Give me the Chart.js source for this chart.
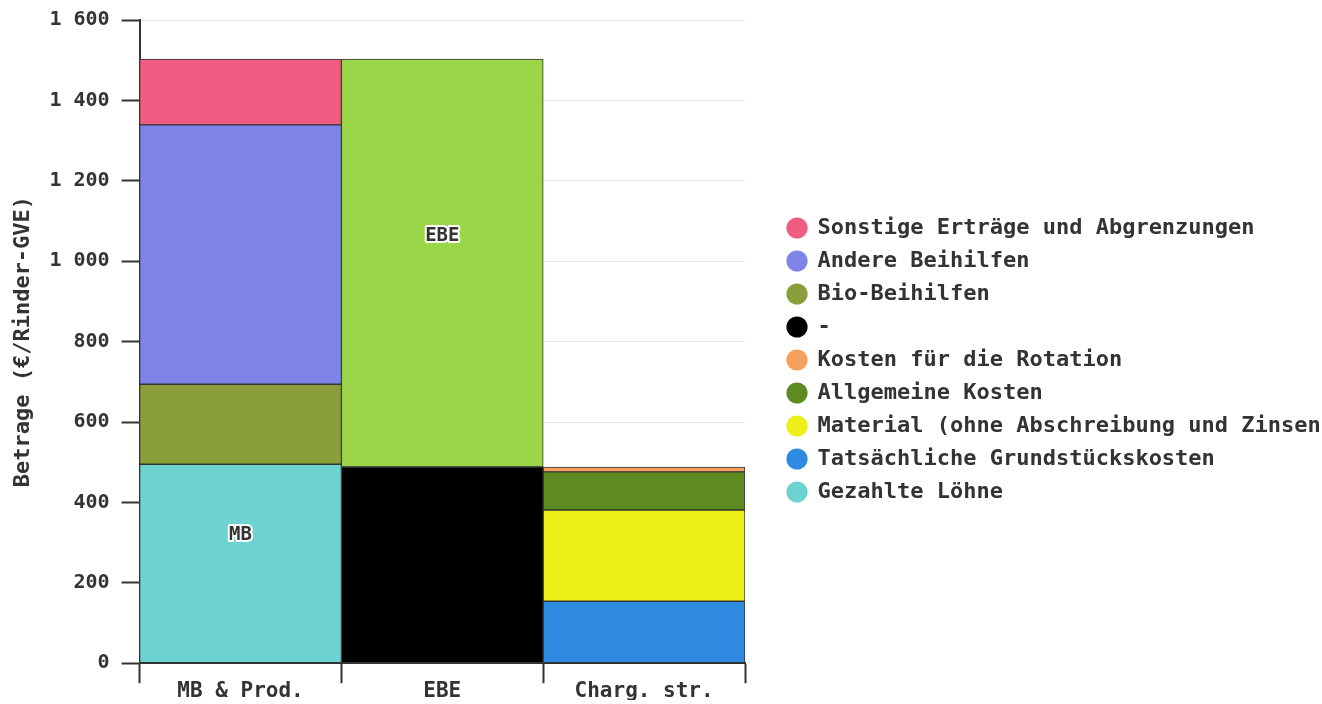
<!DOCTYPE html>
<html>
<head>
<meta charset="utf-8">
<title>Betrage je Rinder-GVE</title>
<script src="https://cdn.jsdelivr.net/npm/chart.js@4/dist/chart.umd.min.js"></script>
<style>
  html, body { margin: 0; padding: 0; background: #fff; overflow: hidden; }
  #wrap { width: 1322px; height: 704px; position: relative; }
</style>
</head>
<body>
<div id="wrap"><canvas id="chart"></canvas></div>
<script>
// categories and values (EUR per Rinder-GVE)
const categories = ['MB & Prod.', 'EBE', 'Charg. str.'];

const gezahlteLoehne   = [495, null, null];
const grundstueck      = [null, null, 154];
const material         = [null, null, 227];
const allgemeineKosten = [null, null, 95];
const rotation         = [null, null, 12];
const chargesTotal     = [null, 488, null];
const bioBeihilfen     = [199, null, null];
const andereBeihilfen  = [645, null, null];
const sonstige         = [164, null, null];
const ebe              = [null, 1015, null];

const yTicks = { min: 0, max: 1600, step: 200 };

// text labels written inside the bars: [category index, value on the y scale]
const barNotes = [
    { text: 'MB', cat: 0, value: 318 },
    { text: 'EBE', cat: 1, value: 1062 }
];

const FONT = '"DejaVu Sans Mono", "Liberation Mono", monospace';
const INK = '#333';

function fmt(v) {
    return String(v).replace(/\B(?=(\d{3})+(?!\d))/g, ' ');
}

function ds(label, data, color, hidden) {
    return {
        label: label,
        data: data,
        backgroundColor: color,
        borderColor: INK,
        borderWidth: 1,
        borderSkipped: false,
        inLegend: !hidden
    };
}

// draws "MB" / "EBE" with a white halo
const notesPlugin = {
    id: 'barNotes',
    afterDatasetsDraw(chart) {
        const ctx = chart.ctx;
        const xs = chart.scales.x, ys = chart.scales.y;
        ctx.save();
        ctx.font = 'bold 19px ' + FONT;
        ctx.textAlign = 'center';
        ctx.textBaseline = 'middle';
        ctx.lineJoin = 'round';
        barNotes.forEach(n => {
            const x = xs.getPixelForValue(n.cat);
            const y = ys.getPixelForValue(n.value);
            ctx.lineWidth = 4;
            ctx.strokeStyle = '#fff';
            ctx.strokeText(n.text, x, y);
            ctx.fillStyle = INK;
            ctx.fillText(n.text, x, y);
        });
        ctx.restore();
    }
};

Chart.defaults.font.family = FONT;
Chart.defaults.font.weight = 'bold';
Chart.defaults.color = INK;

new Chart(document.getElementById('chart'), {
    type: 'bar',
    data: {
        labels: categories,
        datasets: [
            ds('Gezahlte Löhne', gezahlteLoehne, '#6cd3d1'),
            ds('Tatsächliche Grundstückskosten', grundstueck, '#2e89e0'),
            ds('Material (ohne Abschreibung und Zinsen)', material, '#eeee18'),
            ds('Allgemeine Kosten', allgemeineKosten, '#5e8a22'),
            ds('Kosten für die Rotation', rotation, '#f5a05a'),
            ds('-', chargesTotal, '#000000'),
            ds('Bio-Beihilfen', bioBeihilfen, '#8a9e3b'),
            ds('Andere Beihilfen', andereBeihilfen, '#7f84e8'),
            ds('Sonstige Erträge und Abgrenzungen', sonstige, '#f05c82'),
            ds('EBE', ebe, '#9ad648', true)
        ]
    },
    options: {
        responsive: true,
        maintainAspectRatio: false,
        animation: false,
        datasets: {
            bar: { barPercentage: 1, categoryPercentage: 1 }
        },
        layout: {
            padding: { left: 5, top: 20, bottom: 4, right: 0 }
        },
        scales: {
            x: {
                stacked: true,
                grid: {
                    offset: true,
                    drawOnChartArea: false,
                    tickLength: 20,
                    tickColor: INK,
                    tickWidth: 2
                },
                border: { color: INK, width: 2 },
                ticks: {
                    font: { size: 21, lineHeight: 0.8 },
                    padding: 0
                }
            },
            y: {
                stacked: true,
                min: yTicks.min,
                max: yTicks.max,
                grid: {
                    color: '#e6e6e6',
                    tickColor: INK,
                    tickWidth: 2,
                    tickLength: 18
                },
                border: { color: INK, width: 2 },
                ticks: {
                    stepSize: yTicks.step,
                    font: { size: 20, lineHeight: 0.8 },
                    padding: 12,
                    callback: v => fmt(v)
                },
                title: {
                    display: true,
                    text: 'Betrage (€/Rinder-GVE)',
                    font: { size: 22 },
                    padding: { top: 5, bottom: 1 }
                }
            },
            // empty right axis, only keeps a gap between plot and legend
            gap: {
                type: 'linear',
                position: 'right',
                display: true,
                grid: { display: false, drawTicks: false },
                border: { display: false },
                ticks: { display: false },
                afterFit: s => { s.width = 31.5; }
            }
        },
        plugins: {
            legend: {
                position: 'right',
                reverse: true,
                maxWidth: 545.5,
                labels: {
                    usePointStyle: true,
                    pointStyle: 'circle',
                    boxWidth: 19,
                    boxHeight: 15,
                    padding: 11,
                    color: INK,
                    font: { size: 22 },
                    filter: (item, data) => data.datasets[item.datasetIndex].inLegend,
                    generateLabels: chart => {
                        const items = Chart.defaults.plugins.legend.labels.generateLabels(chart);
                        items.forEach(it => { it.lineWidth = 0; it.strokeStyle = 'rgba(0,0,0,0)'; });
                        return items;
                    }
                }
            },
            tooltip: { enabled: false }
        }
    },
    plugins: [notesPlugin]
});
</script>
</body>
</html>
